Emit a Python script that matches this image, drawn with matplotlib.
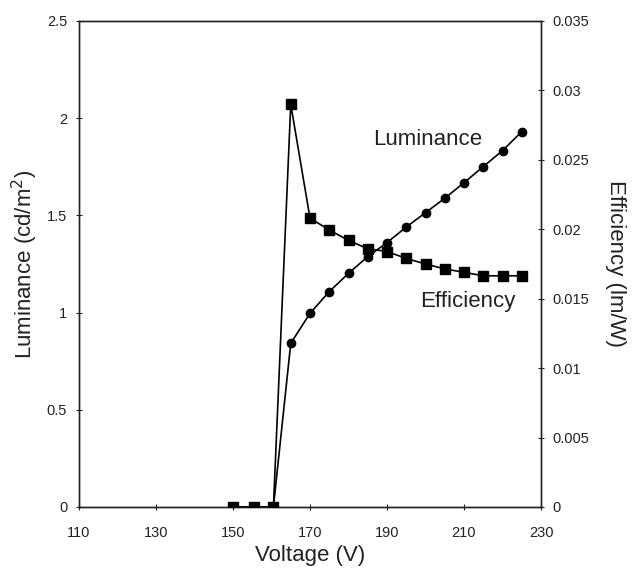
import matplotlib
matplotlib.use("Agg")
import matplotlib.pyplot as plt
from matplotlib.ticker import FuncFormatter

plt.rcParams['font.family'] = ['Liberation Sans', 'DejaVu Sans']

# luminance (cd/m2) vs applied voltage
lum_v = [150, 155.5, 160.5, 165, 170, 175, 180, 185, 190, 195, 200, 205, 210, 215, 220, 225]
lum = [0, 0, 0, 0.842, 0.996, 1.108, 1.202, 1.288, 1.36, 1.44, 1.514, 1.588, 1.668, 1.751, 1.833, 1.931]

# efficiency (lm/W) vs applied voltage
eff_v = [150, 155.5, 160.5, 165, 170, 175, 180, 185, 190, 195, 200, 205, 210, 215, 220, 225]
eff = [0, 0, 0, 0.0290, 0.0208, 0.01995, 0.0192, 0.0186, 0.0184, 0.0179,
       0.0175, 0.01715, 0.0169, 0.01665, 0.01665, 0.01665]

x_ticks = [110, 130, 150, 170, 190, 210, 230]
lum_ticks = [0, 0.5, 1, 1.5, 2, 2.5]
eff_ticks = [0, 0.005, 0.01, 0.015, 0.02, 0.025, 0.03, 0.035]

fig = plt.figure(figsize=(6.34, 5.68), dpi=100)
ax = fig.add_axes([79 / 634, 1 - 507 / 568, 462 / 634, 486 / 568])
ax2 = ax.twinx()

ax.plot(lum_v, lum, color='black', lw=1.2, marker='o', ms=6, zorder=2)
ax2.plot(eff_v, eff, color='black', lw=1.2, marker='s', ms=7, zorder=3)

ax.set_xlim(110, 230)
ax.set_ylim(0, 2.5)
ax2.set_ylim(0, 0.035)
ax.set_xticks(x_ticks)
ax.set_yticks(lum_ticks)
ax2.set_yticks(eff_ticks)

fmt = FuncFormatter(lambda v, p: '%g' % v)
ax.xaxis.set_major_formatter(fmt)
ax.yaxis.set_major_formatter(fmt)
ax2.yaxis.set_major_formatter(fmt)

for a in (ax, ax2):
    a.tick_params(direction='inout', length=5, width=0.8, labelsize=10.5,
                  colors='#222222', pad=6)
    for s in a.spines.values():
        s.set_linewidth(1.0)
        s.set_color('#222222')
ax.tick_params(axis='x', pad=11)

ax.set_xlabel('Voltage (V)', fontsize=16, color='#222222', labelpad=4)
ax.set_ylabel('Luminance (cd/m$^2$)', fontsize=16, color='#222222', labelpad=5)
ax2.set_ylabel('Efficiency (lm/W)', fontsize=16, color='#222222',
               rotation=270, labelpad=26)

ax.text(186.4, 1.888, 'Luminance', fontsize=16, color='#222222', ha='left', va='center')
ax.text(198.6, 1.055, 'Efficiency', fontsize=16, color='#222222', ha='left', va='center')

fig.savefig('out.png', dpi=100)
